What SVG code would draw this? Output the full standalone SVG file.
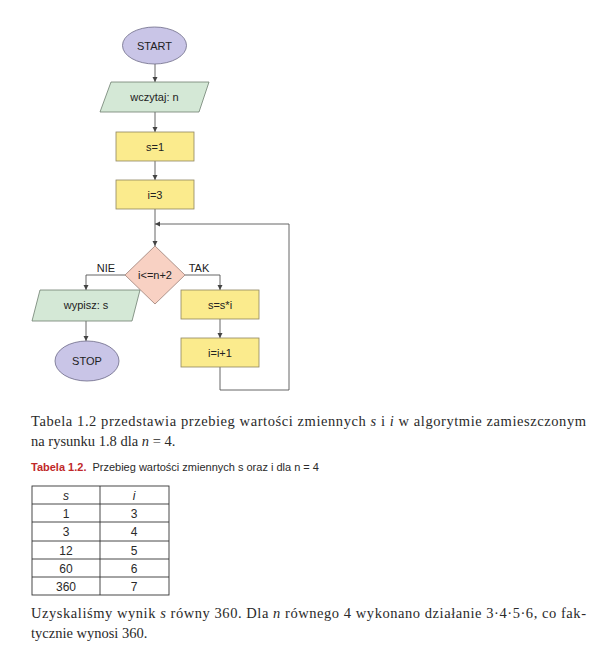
<svg xmlns="http://www.w3.org/2000/svg" width="612" height="650" viewBox="0 0 612 650">
<defs>
<marker id="arr" markerUnits="userSpaceOnUse" markerWidth="6" markerHeight="6" refX="5" refY="2.5" orient="auto">
<path d="M0,0 L5,2.5 L0,5 z" fill="#444"/>
</marker>
<style>
.fc{font-family:"Liberation Sans","Open Sans",sans-serif;font-size:11px;fill:#222;text-anchor:middle}
.term{fill:#c9c5e7;stroke:#6c6a86;stroke-width:0.8}
.io{fill:#d4e8d6;stroke:#6f7f70;stroke-width:0.8}
.proc{fill:#fbeb8d;stroke:#8f8660;stroke-width:0.8}
.dec{fill:#f8d1c3;stroke:#9c7f76;stroke-width:0.8}
.conn path{fill:none;stroke:#555;stroke-width:0.9}
.body{font-family:"Liberation Serif",serif;font-size:14.5px;fill:#2a2a2a}
.cap{font-family:"Liberation Sans",sans-serif;font-size:11px;fill:#2a2a2a}
.tb{font-family:"Liberation Sans",sans-serif;font-size:12px;fill:#2a2a2a;text-anchor:middle}
.grid{fill:none;stroke:#333;stroke-width:0.9}
</style>
</defs>
<rect width="612" height="650" fill="#fff"/>
<g id="connectors" class="conn">
<path d="M155,64 V82" marker-end="url(#arr)"/>
<path d="M155,112 V132" marker-end="url(#arr)"/>
<path d="M155,161 V180" marker-end="url(#arr)"/>
<path d="M155,209 V246" marker-end="url(#arr)"/>
<path d="M125,275 H86 V290" marker-end="url(#arr)"/>
<path d="M185,275 H220 V290" marker-end="url(#arr)"/>
<path d="M86,321 V341" marker-end="url(#arr)"/>
<path d="M220,319 V338" marker-end="url(#arr)"/>
<path d="M220,367 V390 H289 V224 H155" marker-end="url(#arr)"/>
</g>
<g id="start"><ellipse class="term" cx="154.5" cy="45.5" rx="32" ry="18.5"/><text class="fc" x="154.5" y="49.5">START</text></g>
<g id="read"><polygon class="io" points="111,82 209,82 199,112 100,112"/><text class="fc" x="154.5" y="101">wczytaj: n</text></g>
<g id="s1"><rect class="proc" x="116" y="132" width="78" height="29"/><text class="fc" x="155" y="150.5">s=1</text></g>
<g id="i3"><rect class="proc" x="116" y="180" width="78" height="29"/><text class="fc" x="155" y="198.5">i=3</text></g>
<g id="cond"><polygon class="dec" points="155,246 185,275 155,304 125,275"/><text class="fc" x="155" y="279">i&lt;=n+2</text></g>
<g id="lbl-nie"><text class="fc" x="106" y="272">NIE</text></g>
<g id="lbl-tak"><text class="fc" x="199" y="272">TAK</text></g>
<g id="write"><polygon class="io" points="40,290 140,290 132,321 32,321"/><text class="fc" x="86" y="309">wypisz: s</text></g>
<g id="stop"><ellipse class="term" cx="87" cy="361" rx="32" ry="20"/><text class="fc" x="87" y="365">STOP</text></g>
<g id="mul"><rect class="proc" x="181" y="290" width="78" height="29"/><text class="fc" x="220" y="308.5">s=s*i</text></g>
<g id="inc"><rect class="proc" x="181" y="338" width="78" height="29"/><text class="fc" x="220" y="356.5">i=i+1</text></g>

<text class="body" x="31" y="426" textLength="555" lengthAdjust="spacing">Tabela 1.2 przedstawia przebieg wartości zmiennych <tspan font-style="italic">s</tspan> i <tspan font-style="italic">i</tspan> w algorytmie zamieszczonym</text>
<text class="body" x="31" y="446">na rysunku 1.8 dla <tspan font-style="italic">n</tspan> = 4.</text>
<text class="cap" x="31" y="471"><tspan font-weight="bold" fill="#c0282a">Tabela 1.2.</tspan><tspan dx="6">Przebieg wartości zmiennych s oraz i dla n = 4</tspan></text>

<g id="table">
<rect class="grid" x="32" y="486" width="137" height="109"/>
<path class="grid" d="M100,486 V595 M32,504 H169 M32,522 H169 M32,541 H169 M32,559 H169 M32,577 H169"/>
<text class="tb" x="66" y="500" font-style="italic">s</text><text class="tb" x="134" y="500" font-style="italic">i</text>
<text class="tb" x="66" y="518">1</text><text class="tb" x="134" y="518">3</text>
<text class="tb" x="66" y="536">3</text><text class="tb" x="134" y="536">4</text>
<text class="tb" x="66" y="555">12</text><text class="tb" x="134" y="555">5</text>
<text class="tb" x="66" y="573">60</text><text class="tb" x="134" y="573">6</text>
<text class="tb" x="66" y="591">360</text><text class="tb" x="134" y="591">7</text>
</g>

<text class="body" x="31" y="618" textLength="555" lengthAdjust="spacing">Uzyskaliśmy wynik <tspan font-style="italic">s</tspan> równy 360. Dla <tspan font-style="italic">n</tspan> równego 4 wykonano działanie 3·4·5·6, co fak-</text>
<text class="body" x="31" y="638">tycznie wynosi 360.</text>
</svg>
